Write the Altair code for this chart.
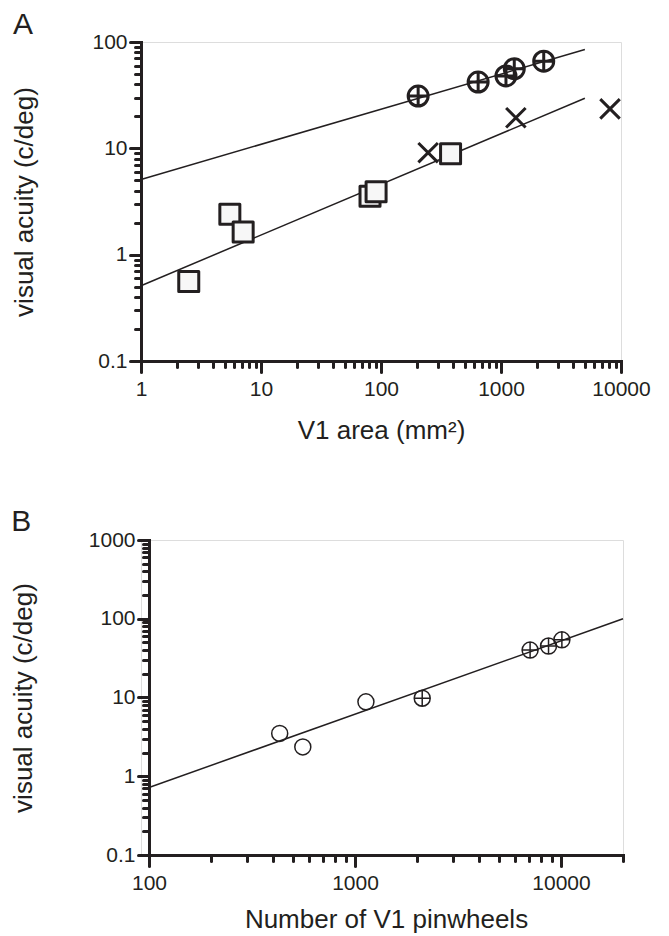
import altair as alt
import pandas as pd

INK = "#231f20"
FONT = "Liberation Sans"

# ---------------- Panel A data ----------------
sq_x = [2.5, 5.5, 7.1, 81, 91, 380]
sq_y = [0.56, 2.4, 1.63, 3.55, 3.9, 8.9]
cp_x = [204, 645, 1100, 1290, 2270]
cp_y = [31, 42, 48, 56, 66]
xm_x = [247, 1330, 8100]
xm_y = [9.1, 19.4, 23.5]
fit_up_x = [1, 5000]
fit_up_y = [5.1, 85]
fit_lo_x = [1, 5000]
fit_lo_y = [0.51, 29.6]

# ---------------- Panel B data ----------------
oc_x = [431, 558, 1130]
oc_y = [3.5, 2.36, 8.8]
pc_x = [2120, 7080, 8700, 10100]
pc_y = [9.8, 40, 45, 54]
fit_b_x = [100, 20000]
fit_b_y = [0.72, 100]

# ---------------- ticks ----------------
A_x_major = [1, 10, 100, 1000, 10000]
A_y_major = [0.1, 1, 10, 100]
B_x_major = [100, 1000, 10000]
B_y_major = [0.1, 1, 10, 100, 1000]
A_x_minor = [m * 10 ** e for e in range(0, 4) for m in range(2, 10)]
A_y_minor = [round(m * 10.0 ** e, 3) for e in range(-1, 2) for m in range(2, 10)]
B_x_minor = [m * 10 ** e for e in range(2, 4) for m in range(2, 10)] + [20000]
B_y_minor = [round(m * 10.0 ** e, 3) for e in range(-1, 3) for m in range(2, 10)]

CIRCLE_PLUS = "M-1,0A1,1,0,1,0,1,0A1,1,0,1,0,-1,0ZM-1,0L1,0M0,-1L0,1"
CIRCLE = "M-1,0A1,1,0,1,0,1,0A1,1,0,1,0,-1,0Z"
X_MARK = "M-1,-1L1,1M-1,1L1,-1"


def axis_common(orient, offset=0):
    return dict(
        orient=orient,
        offset=offset,
        tickWidth=3,
        tickColor=INK,
        tickCap="round",
        domainWidth=3,
        domainColor=INK,
        domainCap="square",
        grid=False,
    )


def minor_axis(values, orient, offset=0):
    return alt.Axis(values=values, title=None, labels=False, tickSize=6,
                    **axis_common(orient, offset))


def major_axis(values, title, orient, label_pad, title_pad, offset=0):
    return alt.Axis(
        values=values,
        title=title,
        format="~g",
        tickSize=11,
        labelFont=FONT,
        labelFontSize=21,
        labelColor=INK,
        labelPadding=label_pad,
        labelFlush=False,
        labelOverlap=False,
        titleFont=FONT,
        titleFontSize=26,
        titleFontWeight="normal",
        titleColor=INK,
        titlePadding=title_pad,
        **axis_common(orient, offset),
    )


def frame(xs, ys):
    return pd.DataFrame({"x": xs, "y": ys})


def layer_chart(df, mark, xscale, yscale, xaxis, yaxis):
    return mark(alt.Chart(df)).encode(
        x=alt.X("x:Q", scale=xscale, axis=xaxis),
        y=alt.Y("y:Q", scale=yscale, axis=yaxis),
    )


line = lambda c: c.mark_line(color=INK, strokeWidth=1.5)

# ---------------- Panel A ----------------
sxA = alt.Scale(type="log", domain=[1, 10000])
syA = alt.Scale(type="log", domain=[0.1, 100])

panelA = alt.layer(
    layer_chart(frame(fit_up_x, fit_up_y), line, sxA, syA,
                minor_axis(A_x_minor, "bottom"), minor_axis(A_y_minor, "left")),
    layer_chart(frame(fit_lo_x, fit_lo_y), line, sxA, syA, None, None),
    layer_chart(frame(sq_x, sq_y),
                lambda c: c.mark_point(shape="square", size=400, filled=True, fill="#f7f7f7",
                                       stroke=INK, strokeWidth=3, strokeJoin="round", opacity=1),
                sxA, syA,
                major_axis(A_x_major, "V1 area (mm²)", "bottom", 6, 18),
                major_axis(A_y_major, "visual acuity (c/deg)", "left", 3, 54)),
    layer_chart(frame(cp_x, cp_y),
                lambda c: c.mark_point(shape=CIRCLE_PLUS, size=400, filled=False, stroke=INK,
                                       strokeWidth=3, opacity=1),
                sxA, syA, None, None),
    layer_chart(frame(xm_x, xm_y),
                lambda c: c.mark_point(shape=X_MARK, size=380, filled=False, stroke=INK,
                                       strokeWidth=3, opacity=1),
                sxA, syA, None, None),
).resolve_axis(x="independent", y="independent").properties(
    width=480, height=319,
    title=alt.TitleParams("A", anchor="start", frame="bounds", font=FONT, fontSize=30,
                          fontWeight="normal", color=INK, offset=-9, dx=1),
)

# ---------------- Panel B ----------------
sxB = alt.Scale(type="log", domain=[100, 20000], range=[8, 482])
syB = alt.Scale(type="log", domain=[0.1, 1000])

panelB = alt.layer(
    layer_chart(frame(fit_b_x, fit_b_y), line, sxB, syB,
                minor_axis(B_x_minor, "bottom"), minor_axis(B_y_minor, "left", -8)),
    layer_chart(frame(oc_x, oc_y),
                lambda c: c.mark_point(shape=CIRCLE, size=256, filled=False, stroke=INK,
                                       strokeWidth=1.5, opacity=1),
                sxB, syB,
                major_axis(B_x_major, "Number of V1 pinwheels", "bottom", 6, 13),
                major_axis(B_y_major, "visual acuity (c/deg)", "left", 3, 52, -8)),
    layer_chart(frame(pc_x, pc_y),
                lambda c: c.mark_point(shape=CIRCLE_PLUS, size=256, filled=False, stroke=INK,
                                       strokeWidth=1.5, opacity=1),
                sxB, syB, None, None),
).resolve_axis(x="independent", y="independent").properties(
    width=482, height=315,
    title=alt.TitleParams("B", anchor="start", frame="bounds", font=FONT, fontSize=30,
                          fontWeight="normal", color=INK, offset=-8, dx=1),
)

chart = alt.concat(panelA, panelB, columns=1, spacing=62).properties(
    padding={"left": 1, "top": 1, "right": 5, "bottom": 0},
).configure_view(stroke=None).configure(background="white")

chart.save("out.html", embed_options={"renderer": "svg", "actions": False})
